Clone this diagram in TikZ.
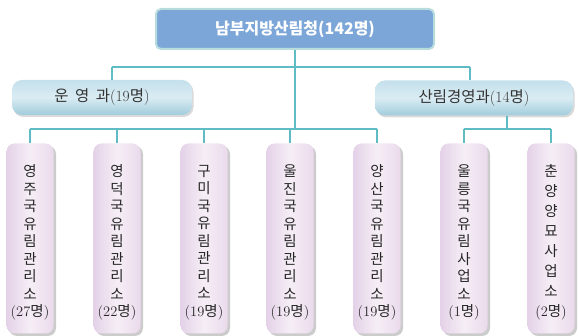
\documentclass[tikz,border=0pt]{standalone}
\usepackage{fontspec}
\newfontfamily\kr{Noto Sans CJK KR}
\usetikzlibrary{shadows}
\definecolor{lineC}{RGB}{96,188,196}
\definecolor{topfill}{RGB}{124,166,216}
\definecolor{topedge}{RGB}{184,220,220}
\definecolor{midtop}{RGB}{196,224,236}
\definecolor{midmid}{RGB}{218,236,243}
\definecolor{midbot}{RGB}{160,204,220}
\definecolor{stL}{RGB}{228,210,232}
\definecolor{stM}{RGB}{246,238,246}
\definecolor{stR}{RGB}{234,218,236}
\newcommand\mypc[1]{{\rmfamily(#1}명{\rmfamily)}}
\begin{document}
\begin{tikzpicture}[x=1pt,y=-1pt,
 conn/.style={draw=lineC, line width=1.4pt},
 topbox/.style={draw=topedge, line width=2pt, fill=topfill, rounded corners=5pt,
   minimum width=278pt, minimum height=40pt, text=white, inner sep=0pt,
   font=\kr\bfseries\fontsize{16}{18}\selectfont},
 midbox/.style={rounded corners=10pt, minimum height=35pt, inner sep=0pt,
   top color=midtop, bottom color=midbot, middle color=midmid,
   drop shadow={shadow xshift=1.5pt, shadow yshift=-2pt, opacity=0.3},
   font=\kr\fontsize{15.5}{17}\selectfont, text=black!80},
 stbox/.style={rounded corners=8pt, minimum width=47pt, minimum height=190pt, inner sep=0pt,
   left color=stL, right color=stR, middle color=stM,
   drop shadow={shadow xshift=2.5pt, shadow yshift=-2.5pt, opacity=0.4}},
 sttext/.style={align=center, text=black!85, inner sep=0pt, font=\kr\fontsize{14.5}{17.5}\selectfont},
 sttextw/.style={sttext, font=\kr\fontsize{14.5}{20}\selectfont}
]
\useasboundingbox (0,0) rectangle (579,336);

\coordinate (hL) at (112,67);
\coordinate (hR) at (470,67);
\coordinate (bL) at (30,129);
\coordinate (bC) at (295,129);
\coordinate (bR1) at (464,129);
\coordinate (bR2) at (551,129);
\coordinate (bRm) at (507,129);

\foreach \n/\x in {s1/30,s2/117,s3/204,s4/290,s5/377,s6/464,s7/551}
  \node[stbox] (\n) at (\x,238.5) {};

\node[sttext]  (t1) at ([yshift=-4pt]s1.center) {영\\주\\국\\유\\림\\관\\리\\소\\\mypc{27}};
\node[sttext]  (t2) at ([yshift=-4pt]s2.center) {영\\덕\\국\\유\\림\\관\\리\\소\\\mypc{22}};
\node[sttext]  (t3) at ([yshift=-4pt]s3.center) {구\\미\\국\\유\\림\\관\\리\\소\\\mypc{19}};
\node[sttext]  (t4) at ([yshift=-4pt]s4.center) {울\\진\\국\\유\\림\\관\\리\\소\\\mypc{19}};
\node[sttext]  (t5) at ([yshift=-4pt]s5.center) {양\\산\\국\\유\\림\\관\\리\\소\\\mypc{19}};
\node[sttext]  (t6) at ([yshift=-4pt]s6.center) {울\\릉\\국\\유\\림\\사\\업\\소\\\mypc{1}};
\node[sttextw] (t7) at ([yshift=-4pt]s7.center) {춘\\양\\양\\묘\\사\\업\\소\\\mypc{2}};

\node[midbox, minimum width=180pt] (ops) at (102,97.5) {운\hspace{3pt} 영\hspace{3pt} 과\mypc{19}};
\node[midbox, minimum width=198pt] (mgt) at (474,98) {산림경영과\mypc{14}};

\draw[conn] (hL) -- (hR);
\draw[conn] (hL) -- (hL |- ops.north);
\draw[conn] (hR) -- (hR |- mgt.north);
\draw[conn] (bL) -- (s5.north |- bL);
\draw[conn] (bR1) -- (bR2);
\draw[conn] (bRm |- mgt.south) -- (bRm);
\foreach \s in {s1,s2,s3,s4,s5} \draw[conn] (\s.north |- bL) -- (\s.north);
\foreach \s in {s6,s7} \draw[conn] (\s.north |- bR1) -- (\s.north);

\node[topbox] (top) at (295,29) {남부지방산림청(142명)};
\draw[conn] (top.south) -- (bC);
\end{tikzpicture}
\end{document}
